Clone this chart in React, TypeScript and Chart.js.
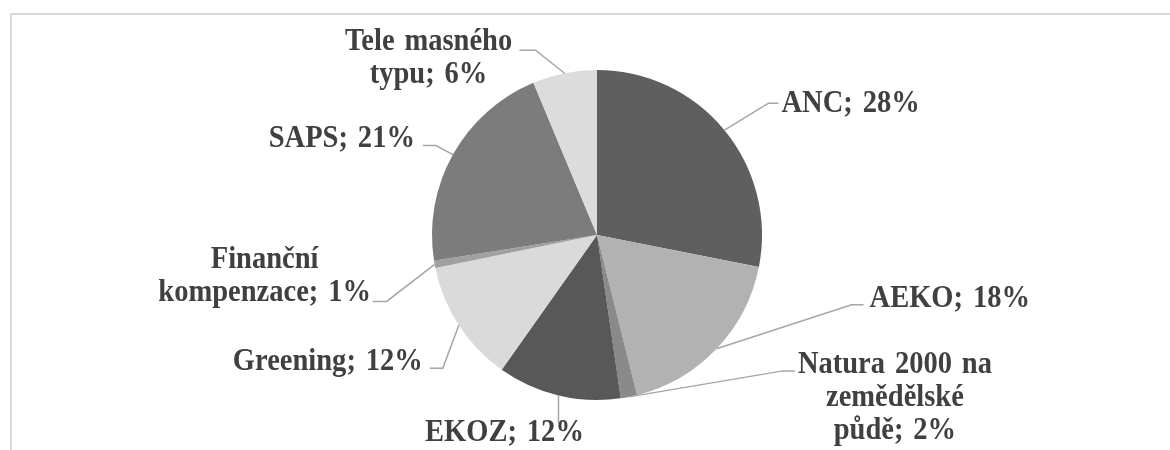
import React, { useEffect, useRef } from "react";
import { Chart, registerables } from "chart.js";

Chart.register(...registerables);

// ---- data ----
const categories = [
  "ANC",
  "AEKO",
  "Natura 2000 na zemědělské půdě",
  "EKOZ",
  "Greening",
  "Finanční kompenzace",
  "SAPS",
  "Tele masného typu",
];
const shares = [28.1, 18.0, 1.6, 12.1, 12.0, 0.7, 21.2, 6.3];
const sliceColors = [
  "#5f5f5f",
  "#b2b2b2",
  "#8a8a8a",
  "#585858",
  "#dadada",
  "#a0a0a0",
  "#7c7c7c",
  "#dcdcdc",
];

// ---- label layout (offsets from each slice's outer-edge midpoint) ----
type Align = "left" | "center" | "right";
const labelLayout: { elbow: number[]; end: number[]; text: number[]; align: Align; wrap: number }[] = [
  { elbow: [44, -27], end: [54, -27], text: [57, -18], align: "left", wrap: 1000 },
  { elbow: [135, -44], end: [147, -44], text: [153, -42], align: "left", wrap: 1000 },
  { elbow: [154, -26], end: [166, -26], text: [266, -24], align: "center", wrap: 205 },
  { elbow: [0, 14], end: [0, 28], text: [-54, 46], align: "center", wrap: 1000 },
  { elbow: [-16, 43], end: [-29, 43], text: [-36, 45], align: "right", wrap: 1000 },
  { elbow: [-48, 37], end: [-62, 37], text: [-170, 4], align: "center", wrap: 228 },
  { elbow: [-17, -9], end: [-30, -9], text: [-38, -8], align: "right", wrap: 1000 },
  { elbow: [-29, -23], end: [-45, -23], text: [-136, -23], align: "center", wrap: 205 },
];

const FONT = 'bold 31px "Liberation Serif", "Times New Roman", serif';
const SCALE_X = 0.92;
const LINE_H = 33;
const TEXT_COLOR = "#404040";
const LEADER_COLOR = "#a6a6a6";

const labelPlugin = {
  id: "pieLabels",
  afterDraw(chart: any) {
    const ctx = chart.ctx as CanvasRenderingContext2D;
    const meta = chart.getDatasetMeta(0);
    const data = chart.data.datasets[0].data as number[];
    const total = data.reduce((a, b) => a + b, 0);
    ctx.save();
    ctx.font = FONT;
    (ctx as any).wordSpacing = "3px";
    meta.data.forEach((arc: any, i: number) => {
      const p = arc.getProps(["x", "y", "startAngle", "endAngle", "outerRadius"], true);
      const mid = (p.startAngle + p.endAngle) / 2;
      const ex = p.x + Math.cos(mid) * p.outerRadius;
      const ey = p.y + Math.sin(mid) * p.outerRadius;
      const lay = labelLayout[i];
      // leader line
      ctx.beginPath();
      ctx.strokeStyle = LEADER_COLOR;
      ctx.lineWidth = 1.5;
      ctx.moveTo(ex, ey);
      ctx.lineTo(ex + lay.elbow[0], ey + lay.elbow[1]);
      ctx.lineTo(ex + lay.end[0], ey + lay.end[1]);
      ctx.stroke();
      // text
      const pct = Math.round((data[i] / total) * 100);
      const full = `${chart.data.labels[i]}; ${pct}%`;
      const words = full.split(" ");
      const lines: string[] = [];
      let cur = "";
      words.forEach((w) => {
        const test = cur ? cur + " " + w : w;
        if (cur && ctx.measureText(test).width * SCALE_X > lay.wrap) {
          lines.push(cur);
          cur = w;
        } else cur = test;
      });
      if (cur) lines.push(cur);
      const tx = ex + lay.text[0];
      const ty = ey + lay.text[1];
      ctx.fillStyle = TEXT_COLOR;
      ctx.textAlign = "left";
      ctx.textBaseline = "alphabetic";
      lines.forEach((line, k) => {
        const w = ctx.measureText(line).width * SCALE_X;
        let left = tx;
        if (lay.align === "center") left = tx - w / 2;
        else if (lay.align === "right") left = tx - w;
        ctx.save();
        ctx.translate(left, ty + k * LINE_H);
        ctx.scale(SCALE_X, 1);
        ctx.fillText(line, 0, 0);
        ctx.restore();
      });
    });
    ctx.restore();
  },
};

export default function App() {
  const canvasRef = useRef<HTMLCanvasElement | null>(null);

  useEffect(() => {
    if (!canvasRef.current) return;
    const chart = new Chart(canvasRef.current, {
      type: "pie",
      data: {
        labels: categories,
        datasets: [
          {
            data: shares,
            backgroundColor: sliceColors,
            borderWidth: 0,
          },
        ],
      },
      options: {
        responsive: false,
        animation: false,
        devicePixelRatio: 1,
        layout: { padding: { top: 70, bottom: 50, left: 432, right: 408 } },
        plugins: {
          legend: { display: false },
          tooltip: { enabled: false },
        },
      },
      plugins: [labelPlugin],
    });
    return () => chart.destroy();
  }, []);

  return (
    <div
      style={{
        position: "absolute",
        left: 0,
        top: 0,
        width: 1170,
        height: 450,
        overflow: "hidden",
        background: "#ffffff",
      }}
    >
      <div
        style={{
          position: "absolute",
          left: 10,
          top: 13,
          width: 1300,
          height: 600,
          borderLeft: "2px solid #d9d9d9",
          borderTop: "2px solid #d9d9d9",
        }}
      />
      <canvas
        ref={canvasRef}
        width={1170}
        height={450}
        style={{ position: "absolute", left: 0, top: 0, width: "1170px", height: "450px" }}
      />
    </div>
  );
}
